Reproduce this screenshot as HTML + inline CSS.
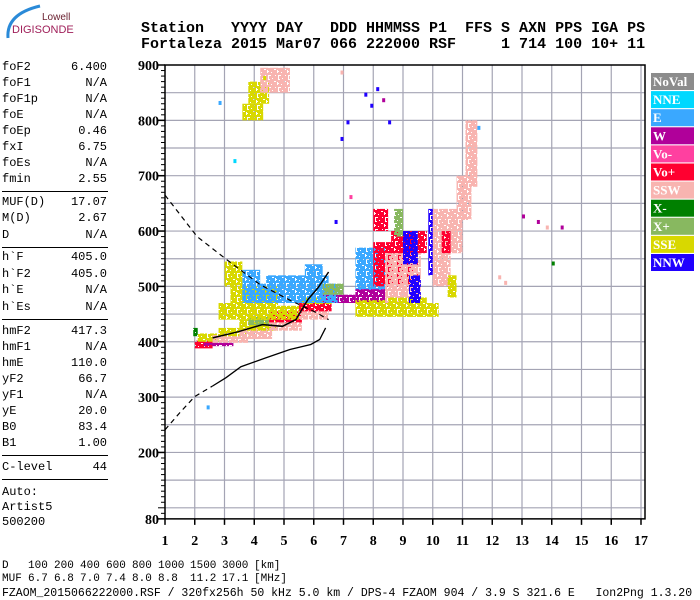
<!DOCTYPE html>
<html><head><meta charset="utf-8"><style>
body{margin:0;background:#fff;width:700px;height:600px;overflow:hidden;position:relative;font-family:"Liberation Mono",monospace}
.t{position:absolute;white-space:pre;font-size:12px;line-height:14px;color:#000}
.hd{position:absolute;white-space:pre;font-family:"Liberation Mono",monospace;font-weight:bold;font-size:15px;left:141px}
.ln{position:absolute;left:2px;width:106px;height:0;border-top:1.5px solid #000}
.bt{position:absolute;white-space:pre;font-size:11px;line-height:13px}
</style></head><body>
<svg style="position:absolute;left:0;top:0" width="90" height="45">
<path d="M8 38 Q6 14 40 6" fill="none" stroke="#2a8ad8" stroke-width="3"/>
<text x="42" y="20" font-family="Liberation Sans,sans-serif" font-size="10" fill="#6a2030">Lowell</text>
<text x="12" y="33" font-family="Liberation Sans,sans-serif" font-size="11" fill="#a0205a">DIGISONDE</text>
</svg>
<div class="hd" style="top:20px">Station   YYYY DAY   DDD HHMMSS P1  FFS S AXN PPS IGA PS</div>
<div class="hd" style="top:36px">Fortaleza 2015 Mar07 066 222000 RSF     1 714 100 10+ 11</div>
<div id="panel"></div>
<div class="bt" style="left:2px;top:560px">D</div>
<div class="bt" style="left:2px;top:573px">MUF</div>
<div id="brow"></div>
<div class="bt" style="left:2px;top:587px;font-size:11.5px">FZAOM_2015066222000.RSF / 320fx256h 50 kHz 5.0 km / DPS-4 FZAOM 904 / 3.9 S 321.6 E   Ion2Png 1.3.20</div>
<svg id="plot" style="position:absolute;left:0;top:0" width="700" height="600"></svg>
<script>
const panelNames=["foF2","foF1","foF1p","foE","foEp","fxI","foEs","fmin","MUF(D)","M(D)","D","h`F","h`F2","h`E","h`Es","hmF2","hmF1","hmE","yF2","yF1","yE","B0","B1","C-level"];
const panelVals=["6.400","N/A","N/A","N/A","0.46","6.75","N/A","2.55","17.07","2.67","N/A","405.0","405.0","N/A","N/A","417.3","N/A","110.0","66.7","N/A","20.0","83.4","1.00","44"];
const panelY=[60,76,92,108,124,140,156,172,195,211,228,250,267,283,300,324,340,356,372,388,404,420,436,460];
const lineY=[191,247,319,455,479];
const dTicks=["100","200","400","600","800","1000","1500","3000","[km]"];
const mufTicks=["6.7","6.8","7.0","7.4","8.0","8.8","11.2","17.1","[MHz]"];
const botX=[28,54,80,106,132,158,190,222,254];
const freqTicks=[1,2,3,4,5,6,7,8,9,10,11,12,13,14,15,16,17];
const hTicks=[900,800,700,600,500,400,300,200,80];
const legendNames=["NoVal","NNE","E","W","Vo-","Vo+","SSW","X-","X+","SSE","NNW"];
const legendColors=["#8c8c8c","#00d8ff","#3aa8ff","#b0009a","#ff40a0","#ff0030","#f8b4b0","#008000","#88b860","#d8d800","#2000ff"];
const blkF0=[2.0,2.1,2.6,2.8,3.5,3.5,3.8,4.5,4.5,4.6,5.5,5.5,5.6,2.3,6.3,2.8,3.2,4.0,3.6,4.4,5.2,3.6,5.7,6.3,7.4,7.4,7.4,8.0,8.4,8.6,8.7,9.0,8.5,9.0,9.5,9.85,10.0,10.4,10.8,11.1,10.3,10.5,3.8,4.2,3.6,1.95,3.0,8.0,9.2,10.0];
const blkF1=[2.6,2.8,3.8,3.8,4.6,4.8,4.6,5.6,5.6,5.6,6.5,6.6,6.6,3.3,7.4,4.2,4.8,5.5,5.5,6.5,6.8,4.2,6.3,7.0,8.4,8.4,8.6,9.5,9.6,9.4,9.0,9.5,9.8,10.2,9.8,10.05,10.6,11.0,11.3,11.5,10.6,10.8,4.5,5.2,4.3,2.1,3.6,8.5,9.6,10.5];
const blkH0=[388,400,398,410,405,420,430,420,435,450,440,455,468,392,470,440,455,440,470,480,470,495,500,485,490,470,445,500,470,560,590,540,445,445,560,520,500,560,620,680,560,480,830,850,800,410,500,600,470,600];
const blkH1=[402,415,412,425,425,440,445,440,455,465,460,470,480,398,485,470,500,460,505,520,505,530,540,505,570,495,475,580,560,600,640,600,480,470,600,640,600,640,700,800,600,520,870,895,830,425,545,640,520,640];
const blkC=[5,9,6,9,6,9,8,6,5,9,6,5,9,3,3,9,9,9,2,2,2,2,2,8,2,3,9,5,6,5,8,10,9,9,5,10,6,6,6,6,5,9,9,6,9,7,9,5,10,6];
const dotF=[2.8,3.3,2.4,6.9,7.1,7.7,7.9,8.1,8.3,8.5,6.9,13.0,13.5,13.8,14.3,14.0,12.2,12.4,11.5,4.3,6.7,7.2];
const dotH=[835,730,285,770,800,850,830,860,840,800,890,630,620,610,610,545,520,510,790,880,620,665];
const dotC=[2,1,2,10,10,10,10,10,3,10,6,3,3,6,3,7,6,6,2,9,10,4];
const SVGNS="http://www.w3.org/2000/svg";
const svg=document.getElementById('plot');
function X(f){return 165+(f-1)*29.75;}
function Y(h){return 65+(900-h)*0.5535;}
function mk(tag,at,parent){const e=document.createElementNS(SVGNS,tag);for(const k in at)e.setAttribute(k,at[k]);(parent||svg).appendChild(e);return e;}
// speckle patterns (styling only)
const defs=mk('defs',{});
const cells=[[0,0],[3,1],[6,0],[1,4],[4,3],[7,4],[2,7],[5,6],[0,8],[3,9],[6,10],[1,11],[8,1],[8,7],[4,0],[6,5]];
legendColors.forEach((c,i)=>{const p=mk('pattern',{id:'pat'+i,patternUnits:'userSpaceOnUse',width:10,height:12,x:i*3,y:i*2},defs);
cells.forEach(q=>mk('rect',{x:q[0],y:q[1],width:3,height:3,fill:c},p));});
// panel
const panel=document.getElementById('panel');
panelNames.forEach((n,i)=>{const a=document.createElement('div');a.className='t';a.style.left='2px';a.style.top=panelY[i]+'px';a.textContent=n;


panel.appendChild(a);
const b=document.createElement('div');b.className='t';b.style.right=(700-107)+'px';b.style.top=panelY[i]+'px';b.textContent=panelVals[i];


panel.appendChild(b);});
lineY.forEach(y=>{const l=document.createElement('div');l.className='ln';l.style.top=y+'px';


panel.appendChild(l);});
[["Auto:",485],["Artist5",500],["500200",515]].forEach(p=>{const a=document.createElement('div');a.className='t';a.style.left='2px';a.style.top=p[1]+'px';a.textContent=p[0];


panel.appendChild(a);});
const brow=document.getElementById('brow');
dTicks.forEach((t,i)=>{const a=document.createElement('div');a.className='bt';a.style.left=botX[i]+'px';a.style.top='560px';a.textContent=t;


brow.appendChild(a);
const b=document.createElement('div');b.className='bt';b.style.left=botX[i]+'px';b.style.top='573px';b.textContent=mufTicks[i];


brow.appendChild(b);});
// grid
for(let f=2;f<=17;f++){const l=mk('line',{x1:X(f),x2:X(f),y1:Y(900),y2:Y(80),stroke:'#a4a4b4','stroke-width':1.2});

}
for(let h=100;h<900;h+=50){const l=mk('line',{x1:165,x2:645,y1:Y(h),y2:Y(h),stroke:'#a4a4b4','stroke-width':1.2});

}
// blocks
blkF0.forEach((f,i)=>{const r=mk('rect',{x:X(f),y:Y(blkH1[i]),width:X(blkF1[i])-X(f),height:Y(blkH0[i])-Y(blkH1[i]),fill:'url(#pat'+blkC[i]+')'});

});
dotF.forEach((f,i)=>{const r=mk('rect',{x:X(f),y:Y(dotH[i]),width:3,height:4,fill:legendColors[dotC[i]]});

});
// curves
const upF=[1.0,2.08,3.08,4.2,5.2,6.04,6.5];
const upH=[665,590,548,503,475,454,440];
const loDF=[1.0,1.5,2.0,2.6];
const loDH=[241,272,301,320];
const loSF=[2.6,3.05,3.55,4.4,5.2,5.9,6.2,6.4];
const loSH=[320,335,355,371,386,395,404,425];
const trF=[2.6,3.45,4.27,4.95,5.4,5.8,6.15,6.5];
const trH=[407,418,431,428,440,476,498,526];
function path(fs,hs){return fs.map((f,i)=>(i?'L':'M')+X(f).toFixed(1)+' '+Y(hs[i]).toFixed(1)).join(' ');}
let p=mk('path',{d:path(upF,upH),fill:'none',stroke:'#000','stroke-width':1.2,'stroke-dasharray':'5 4'});


p=mk('path',{d:path(loDF,loDH),fill:'none',stroke:'#000','stroke-width':1.2,'stroke-dasharray':'5 4'});


p=mk('path',{d:path(loSF,loSH),fill:'none',stroke:'#000','stroke-width':1.3});


p=mk('path',{d:path(trF,trH),fill:'none',stroke:'#000','stroke-width':1.5});


// border
let b=mk('rect',{x:165,y:Y(900),width:480,height:Y(80)-Y(900),fill:'none',stroke:'#000','stroke-width':1.5});


// y ticks
for(let h=80;h<=900;h+=10){const L=(h%100===0)?7:4;const t=mk('line',{x1:165-L,x2:165,y1:Y(h),y2:Y(h),stroke:'#000','stroke-width':1});

}
hTicks.forEach(h=>{const t=mk('text',{x:159,y:Y(h)+5,'text-anchor':'end','font-family':'Liberation Serif,serif','font-weight':'bold','font-size':14});t.textContent=h;


const l=mk('line',{x1:158,x2:165,y1:Y(h),y2:Y(h),stroke:'#000','stroke-width':1.5});

});
freqTicks.forEach(f=>{const l=mk('line',{x1:X(f),x2:X(f),y1:Y(80),y2:Y(80)+6,stroke:'#000','stroke-width':1.5});


const t=mk('text',{x:X(f),y:545,'text-anchor':'middle','font-family':'Liberation Serif,serif','font-weight':'bold','font-size':14});t.textContent=f;

});
// legend
legendNames.forEach((n,i)=>{const y=73+i*18.1;const r=mk('rect',{x:651,y:y,width:43,height:17,fill:legendColors[i]});


const t=mk('text',{x:653,y:y+13,'font-family':'Liberation Serif,serif','font-weight':'bold','font-size':13,fill:'#fff'});t.textContent=n;

});
</script>
</body></html>
